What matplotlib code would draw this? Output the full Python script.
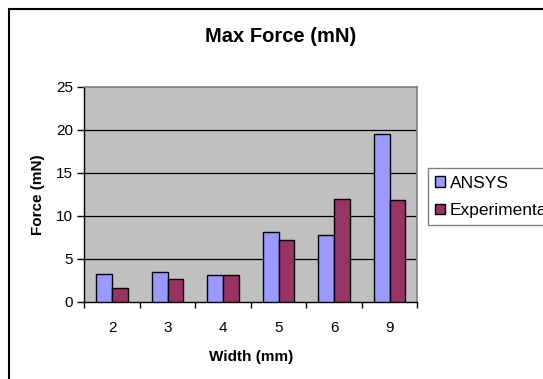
import matplotlib
matplotlib.use("Agg")
import matplotlib.pyplot as plt
import numpy as np
from matplotlib.patches import Rectangle

categories = ["2", "3", "4", "5", "6", "9"]
ansys = [3.2, 3.4, 3.05, 8.1, 7.8, 19.5]
experimental = [1.55, 2.6, 3.05, 7.2, 11.95, 11.8]
series_names = ["ANSYS", "Experimental"]
yticks = [0, 5, 10, 15, 20, 25]

plt.rcParams['font.family'] = ['Liberation Sans', 'DejaVu Sans']

W, H = 543, 379
fig = plt.figure(figsize=(W/100, H/100), dpi=100)
fig.patch.set_facecolor('white')

# outer chart frame (extends beyond right and bottom edges, as in the reference)
fy_top = 1 - 9.3/H
fig.patches.append(Rectangle((8.7/W, -0.5), 2.0, fy_top + 0.5, transform=fig.transFigure,
                             fill=False, edgecolor='black', linewidth=1.5, zorder=0))

left, right, top, bottom = 84.3, 417.3, 86.7, 301.7
ax = fig.add_axes([left/W, 1 - bottom/H, (right-left)/W, (bottom-top)/H])
ax.set_facecolor('#C0C0C0')

x = np.arange(len(categories))
bw = 1/3.5
ax.bar(x - bw/2, ansys, bw, color='#9999FF', edgecolor='black', linewidth=1.0, zorder=3, label=series_names[0])
ax.bar(x + bw/2, experimental, bw, color='#993366', edgecolor='black', linewidth=1.0, zorder=3, label=series_names[1])

ax.set_xlim(-0.5, len(categories) - 0.5)
ax.set_ylim(0, 25)
ax.set_yticks(yticks)
ax.set_yticklabels([str(t) for t in yticks], fontsize=11)
for t in yticks[1:-1]:
    ax.axhline(t, color='black', linewidth=0.9, zorder=1)

ax.set_xticks(x)
ax.set_xticklabels(categories, fontsize=11)
ax.set_xticks(np.arange(len(categories) + 1) - 0.5, minor=True)
ax.tick_params(axis='x', which='major', length=0, pad=14)
ax.tick_params(axis='x', which='minor', length=4, direction='out', width=1, color='black')
ax.tick_params(axis='y', length=5, direction='out', width=1, pad=3)

for s in ['top', 'right']:
    ax.spines[s].set_color('#808080')
    ax.spines[s].set_linewidth(1.2)
for s in ['left', 'bottom']:
    ax.spines[s].set_color('black')
    ax.spines[s].set_linewidth(1.0)

ax.set_xlabel("Width (mm)", fontsize=11, fontweight='bold', labelpad=11)
ax.set_ylabel("Force (mN)", fontsize=11, fontweight='bold', labelpad=8)
fig.text(280.5/W, 1 - 36.7/H, "Max Force (mN)", fontsize=14.5, fontweight='bold', ha='center', va='center')

leg = ax.legend(loc='upper left', bbox_to_anchor=(427.7/W, 1 - 168.3/H), bbox_transform=fig.transFigure,
                fontsize=12.5, frameon=True, fancybox=False, borderpad=0.42, handlelength=0.55,
                handleheight=0.55, handletextpad=0.3, labelspacing=0.72, borderaxespad=0)
leg.get_frame().set_edgecolor('#606060')
leg.get_frame().set_linewidth(1.0)

fig.savefig("out.png", dpi=100)
